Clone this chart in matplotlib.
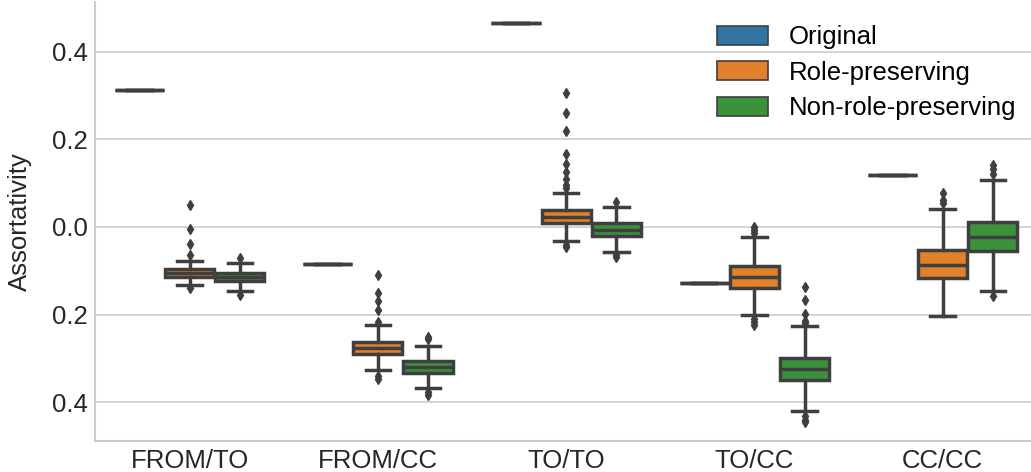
import matplotlib
matplotlib.use("Agg")
import matplotlib.pyplot as plt
from matplotlib.patches import Patch

categories = ["FROM/TO", "FROM/CC", "TO/TO", "TO/CC", "CC/CC"]
series = ["Original", "Role-preserving", "Non-role-preserving"]
colors = ["#3274a1", "#e1812c", "#3a923a"]

# original value (single point per category)
original = [0.314, -0.085, 0.466, -0.129, 0.119]

# role-preserving box stats per category
role_q1 = [-0.114, -0.291, 0.008, -0.139, -0.117]
role_med = [-0.105, -0.277, 0.023, -0.114, -0.087]
role_q3 = [-0.096, -0.262, 0.039, -0.090, -0.052]
role_lo = [-0.133, -0.327, -0.031, -0.202, -0.204]
role_hi = [-0.077, -0.223, 0.078, -0.023, 0.040]
role_fliers = [
    [0.051, -0.004, -0.038, -0.065, -0.139],
    [-0.109, -0.151, -0.168, -0.189, -0.217, -0.340, -0.348],
    [0.305, 0.261, 0.220, 0.167, 0.145, 0.126, 0.109, 0.095, 0.088, -0.041, -0.045],
    [0.001, -0.007, -0.014, -0.211, -0.217, -0.223],
    [0.078, 0.061, 0.054],
]

# non-role-preserving box stats per category
non_q1 = [-0.124, -0.333, -0.020, -0.350, -0.055]
non_med = [-0.114, -0.320, -0.007, -0.325, -0.024]
non_q3 = [-0.105, -0.306, 0.008, -0.300, 0.011]
non_lo = [-0.147, -0.368, -0.058, -0.421, -0.147]
non_hi = [-0.083, -0.271, 0.046, -0.227, 0.108]
non_fliers = [
    [-0.070, -0.155],
    [-0.252, -0.257, -0.378, -0.384],
    [0.057, -0.064, -0.068],
    [-0.138, -0.166, -0.198, -0.215, -0.220, -0.431, -0.440, -0.446],
    [0.141, 0.133, 0.122, -0.158],
]

yticks = [-0.4, -0.2, 0.0, 0.2, 0.4]
yticklabels = ["0.4", "0.2", "0.0", "0.2", "0.4"]

plt.rcParams["font.family"] = ["Liberation Sans", "DejaVu Sans"]
plt.rcParams["font.size"] = 18.5

line_color = "#3f3f3f"
text_color = "#262626"

fig = plt.figure(figsize=(10.31, 4.72), dpi=100)
ax = fig.add_axes([0.0926, 0.0657, 0.913, 0.930])

width = 0.8 / 3
offsets = [-width, 0.0, width]


def draw(stats, xpos, color):
    ax.bxp(stats, positions=xpos, widths=width * 0.98, patch_artist=True,
           showfliers=True,
           boxprops=dict(facecolor=color, edgecolor=line_color, linewidth=2.5),
           medianprops=dict(color=line_color, linewidth=2.5),
           whiskerprops=dict(color=line_color, linewidth=2.5),
           capprops=dict(color=line_color, linewidth=2.5),
           flierprops=dict(marker="d", markerfacecolor=line_color,
                           markeredgecolor=line_color, markersize=5))


x = list(range(len(categories)))

orig_stats = [dict(med=v, q1=v, q3=v, whislo=v, whishi=v, fliers=[])
              for v in original]
draw(orig_stats, [i + offsets[0] for i in x], colors[0])

role_stats = [dict(med=role_med[i], q1=role_q1[i], q3=role_q3[i],
                   whislo=role_lo[i], whishi=role_hi[i], fliers=role_fliers[i])
              for i in x]
draw(role_stats, [i + offsets[1] for i in x], colors[1])

non_stats = [dict(med=non_med[i], q1=non_q1[i], q3=non_q3[i],
                  whislo=non_lo[i], whishi=non_hi[i], fliers=non_fliers[i])
             for i in x]
draw(non_stats, [i + offsets[2] for i in x], colors[2])

ax.set_xlim(-0.5, len(categories) - 0.5)
ax.set_ylim(-0.489, 0.514)
ax.set_xticks(x)
ax.set_xticklabels(categories)
ax.set_yticks(yticks)
ax.set_yticklabels(yticklabels)
ax.set_ylabel("Assortativity", color=text_color)
ax.yaxis.set_label_coords(-0.068, 0.5)

ax.grid(axis="y", color="#cccccc", linewidth=1.2)
ax.grid(axis="x", visible=False)
ax.set_axisbelow(True)
ax.tick_params(length=0, pad=5.5, colors=text_color)
for side in ["top", "right"]:
    ax.spines[side].set_visible(False)
for side in ["left", "bottom"]:
    ax.spines[side].set_color("#cccccc")
    ax.spines[side].set_linewidth(1.5)

handles = [Patch(facecolor=c, edgecolor=line_color, linewidth=1.2) for c in colors]
ax.legend(handles, series, loc="upper right", bbox_to_anchor=(1.003, 1.0),
          frameon=False, handlelength=2.0, handleheight=0.75,
          labelspacing=0.45, handletextpad=0.8)

fig.savefig("out.png", dpi=100)
